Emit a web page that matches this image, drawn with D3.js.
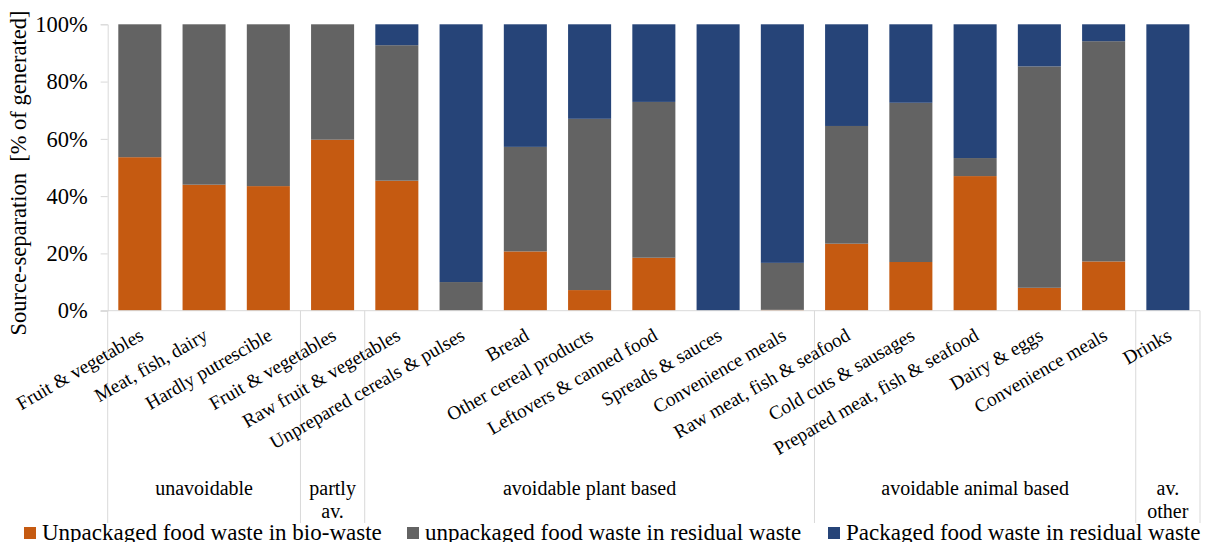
<!DOCTYPE html>
<html>
<head>
<meta charset="utf-8">
<script src="https://cdn.jsdelivr.net/npm/d3@7"></script>
<style>
  html, body { margin: 0; padding: 0; background: #fff; }
  svg { display: block; }
  svg text { font-family: 'Liberation Serif', 'Times New Roman', Times, serif !important; fill: #000; }
</style>
</head>
<body>
<svg id="chart" width="1213" height="542" font-family="Liberation Serif"></svg>
<script>
// ---- data ----
const categories = [
  "Fruit & vegetables", "Meat, fish, dairy", "Hardly putrescible",
  "Fruit & vegetables ",
  "Raw fruit & vegetables", "Unprepared cereals & pulses", "Bread", "Other cereal products",
  "Leftovers & canned food", "Spreads & sauces", "Convenience meals",
  "Raw meat, fish & seafood", "Cold cuts & sausages", "Prepared meat, fish & seafood",
  "Dairy & eggs", "Convenience meals ",
  "Drinks"
];
const bioWaste        = [53.6, 44.0, 43.5, 59.7, 45.4, 0.0, 20.7, 7.2, 18.5, 0.0, 0.3, 23.4, 17.0, 47.0, 8.0, 17.2, 0.0];
const unpackResidual  = [46.4, 56.0, 56.5, 40.3, 47.3, 10.0, 36.5, 59.8, 54.4, 0.0, 16.4, 41.1, 55.6, 6.3, 77.3, 76.9, 0.0];
const packResidual    = [0.0, 0.0, 0.0, 0.0, 7.3, 90.0, 42.8, 33.0, 27.1, 100.0, 83.3, 35.5, 27.4, 46.7, 14.7, 5.9, 100.0];
const seriesNames = [
  "Unpackaged food waste in bio-waste",
  "unpackaged food waste in residual waste",
  "Packaged food waste in residual waste"
];
const groupNames = ["unavoidable", "partly|av.", "avoidable plant based", "avoidable animal based", "av.|other"];
const groupSizes = [3, 1, 7, 5, 1];
const yTicks = [0, 20, 40, 60, 80, 100];
const yTitle = "Source-separation\u00A0\u00A0[% of generated]";

// ---- layout ----
const FONT = "'Liberation Serif', 'Times New Roman', serif";
const colors = ["#C55A11", "#636363", "#264478"];
const svg = d3.select("#chart");
const plot = { left: 107.7, right: 1200, top: 24.3, bottom: 310.7 };
const axisColor = "#d9d9d9";

const x = d3.scaleBand().domain(categories).range([plot.left, plot.right])
  .paddingInner(0.33).paddingOuter(0.165);
const y = d3.scaleLinear().domain([0, 100]).range([plot.bottom, plot.top]);
const step = x.step();
const slotLeft = c => x(c) - (step - x.bandwidth()) / 2;

const rows = categories.map((c, i) => ({
  cat: c, s0: bioWaste[i], s1: unpackResidual[i], s2: packResidual[i]
}));
const stack = d3.stack().keys(["s0", "s1", "s2"]);
const layers = stack(rows);

// bars
svg.append("g").selectAll("g").data(layers).join("g")
  .attr("fill", (d, i) => colors[i])
  .selectAll("rect").data(d => d).join("rect")
  .attr("x", d => x(d.data.cat))
  .attr("width", x.bandwidth())
  .attr("y", d => y(d[1]))
  .attr("height", d => Math.max(0, y(d[0]) - y(d[1])));

// y axis
const yAxis = d3.axisLeft(y).tickValues(yTicks).tickFormat(d => d + "%").tickSizeOuter(0).tickSize(7).tickPadding(13);
const gy = svg.append("g").attr("transform", `translate(${plot.left},0)`).call(yAxis)
  .attr("font-family", FONT).attr("font-size", 22.5);
gy.select(".domain").attr("stroke", axisColor);
gy.selectAll(".tick line").attr("stroke", axisColor);
gy.selectAll(".tick text").attr("fill", "#000");

// x axis line
svg.append("line").attr("x1", plot.left - 7).attr("x2", plot.right)
  .attr("y1", plot.bottom).attr("y2", plot.bottom).attr("stroke", axisColor);

// group separators
const sepBottom = 523;
let idx = 0;
const bounds = [slotLeft(categories[0])];
groupSizes.forEach(n => { idx += n; bounds.push(idx < categories.length ? slotLeft(categories[idx]) : plot.right); });
svg.append("g").selectAll("line").data(bounds).join("line")
  .attr("x1", d => d).attr("x2", d => d)
  .attr("y1", plot.bottom).attr("y2", sepBottom)
  .attr("stroke", axisColor);

// category labels (rotated)
svg.append("g").attr("font-family", FONT).attr("font-size", 19.2)
  .selectAll("text").data(categories).join("text")
  .attr("transform", d => `translate(${x(d) + x.bandwidth() / 2 + 5},339) rotate(-30)`)
  .attr("text-anchor", "end")
  .text(d => d.trim());

// group labels
const gl = svg.append("g").attr("font-family", FONT).attr("font-size", 20);
groupNames.forEach((g, i) => {
  const cx = (bounds[i] + bounds[i + 1]) / 2;
  const lines = g.split("|");
  const t = gl.append("text").attr("text-anchor", "middle");
  lines.forEach((ln, j) => t.append("tspan").attr("x", cx).attr("y", 495 + j * 23).text(ln));
});

// y title
svg.append("text")
  .attr("transform", `translate(26,173) rotate(-90)`)
  .attr("text-anchor", "middle")
  .attr("font-family", FONT).attr("font-size", 22.5)
  .text(yTitle);

// legend
const legendX = [24, 407, 828];
const lg = svg.append("g").attr("font-family", FONT).attr("font-size", 23);
seriesNames.forEach((s, i) => {
  lg.append("rect").attr("x", legendX[i]).attr("y", 527).attr("width", 12).attr("height", 12).attr("fill", colors[i]);
  lg.append("text").attr("x", legendX[i] + 18).attr("y", 539.5).text(s);
});
</script>
</body>
</html>
